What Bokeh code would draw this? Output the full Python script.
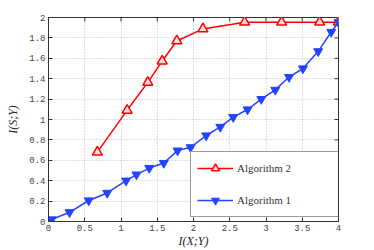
import math
from bokeh.plotting import figure
from bokeh.models import Range1d, FixedTicker, Legend, LegendItem
from bokeh.embed import file_html
from bokeh.resources import INLINE

# Algorithm 2 (red, up triangles)
alg2_x = [0.674, 1.084, 1.37, 1.568, 1.77, 2.13, 2.705, 3.216, 3.74, 4.0]
alg2_y = [0.68, 1.09, 1.364, 1.573, 1.77, 1.888, 1.954, 1.954, 1.954, 1.954]

# Algorithm 1 (blue, down triangles)
alg1_x = [0.044, 0.29, 0.555, 0.81, 1.07, 1.213, 1.39, 1.59, 1.78, 1.96, 2.175,
          2.37, 2.548, 2.746, 2.935, 3.128, 3.318, 3.51, 3.72, 3.9, 4.0]
alg1_y = [0.02, 0.09, 0.206, 0.28, 0.40, 0.46, 0.524, 0.573, 0.695, 0.727, 0.843,
          0.927, 1.023, 1.098, 1.2, 1.29, 1.416, 1.50, 1.668, 1.858, 1.954]

x_ticks = [0, 0.5, 1, 1.5, 2, 2.5, 3, 3.5, 4]
x_tick_labels = ["0", "0.5", "1", "1.5", "2", "2.5", "3", "3.5", "4"]
y_ticks = [0, 0.2, 0.4, 0.6, 0.8, 1, 1.2, 1.4, 1.6, 1.8, 2]
y_tick_labels = ["0", "0.2", "0.4", "0.6", "0.8", "1", "1.2", "1.4", "1.6", "1.8", "2"]

x_min, x_max = 0, 4
y_min, y_max = 0, 2

p = figure(frame_width=290, frame_height=204, output_backend="svg", toolbar_location=None,
           x_range=Range1d(x_min, x_max), y_range=Range1d(y_min, y_max),
           x_axis_label="I(X;Y)", y_axis_label="I(S;Y)",
           min_border_left=48, min_border_right=20, min_border_top=17, min_border_bottom=10)
p.background_fill_color = "white"
p.border_fill_color = "white"
p.outline_line_color = "#333333"
p.outline_line_width = 1

def style_axis(ax, ticks, labels):
    ax.ticker = FixedTicker(ticks=ticks)
    ax.major_label_overrides = {t: l for t, l in zip(ticks, labels)}
    ax.minor_tick_line_color = None
    ax.major_tick_in = 4
    ax.major_tick_out = 0
    ax.major_tick_line_color = "#333333"
    ax.axis_line_color = "#333333"
    ax.major_label_text_font = "Liberation Mono"
    ax.major_label_text_font_size = "9px"
    ax.major_label_text_color = "#444444"
    ax.major_label_standoff = 3
    ax.axis_label_text_font = "Liberation Serif"
    ax.axis_label_text_font_style = "italic"
    ax.axis_label_text_font_size = "12px"
    ax.axis_label_text_color = "#222222"
    ax.axis_label_standoff = 0

style_axis(p.xaxis[0], x_ticks, x_tick_labels)
style_axis(p.yaxis[0], y_ticks, y_tick_labels)
p.yaxis[0].axis_label_standoff = 6

# inward ticks on the top and right edges of the box
p.ray(x=x_ticks, y=[y_max] * len(x_ticks), length=4, length_units="screen",
      angle=-math.pi / 2, line_color="#333333", line_width=1)
p.ray(x=[x_max] * len(y_ticks), y=y_ticks, length=4, length_units="screen",
      angle=math.pi, line_color="#333333", line_width=1)

for g in (p.xgrid[0], p.ygrid[0]):
    g.grid_line_color = "#bbbbbb"
    g.grid_line_dash = "1 2"
    g.grid_line_width = 1
p.xgrid[0].ticker = FixedTicker(ticks=x_ticks)
p.ygrid[0].ticker = FixedTicker(ticks=y_ticks)

l2 = p.line(alg2_x, alg2_y, line_color="#ff0000", line_width=1.5)
s2 = p.scatter(alg2_x, alg2_y, marker="triangle", size=10, line_color="#ff0000",
               fill_color="#ffdddd", line_width=1.5)
l1 = p.line(alg1_x, alg1_y, line_color="#2244ff", line_width=1.5)
s1 = p.scatter(alg1_x, alg1_y, marker="inverted_triangle", size=9, line_color="#2244ff",
               fill_color="#2244ff", line_width=1)

legend = Legend(items=[LegendItem(label="Algorithm 2", renderers=[l2, s2]),
                       LegendItem(label="Algorithm 1", renderers=[l1, s1])],
                location=(142, 4), orientation="vertical")
legend.margin = 0
legend.padding = 6
legend.spacing = 12
legend.glyph_width = 36
legend.glyph_height = 20
legend.label_standoff = 4
legend.label_width = 96
legend.label_text_font = "Liberation Serif"
legend.label_text_font_size = "11px"
legend.label_text_color = "#333333"
legend.border_line_color = "#333333"
legend.border_line_width = 1
legend.background_fill_color = "white"
legend.background_fill_alpha = 1
p.add_layout(legend, "center")

open("out.html", "w").write(file_html(p, INLINE))
